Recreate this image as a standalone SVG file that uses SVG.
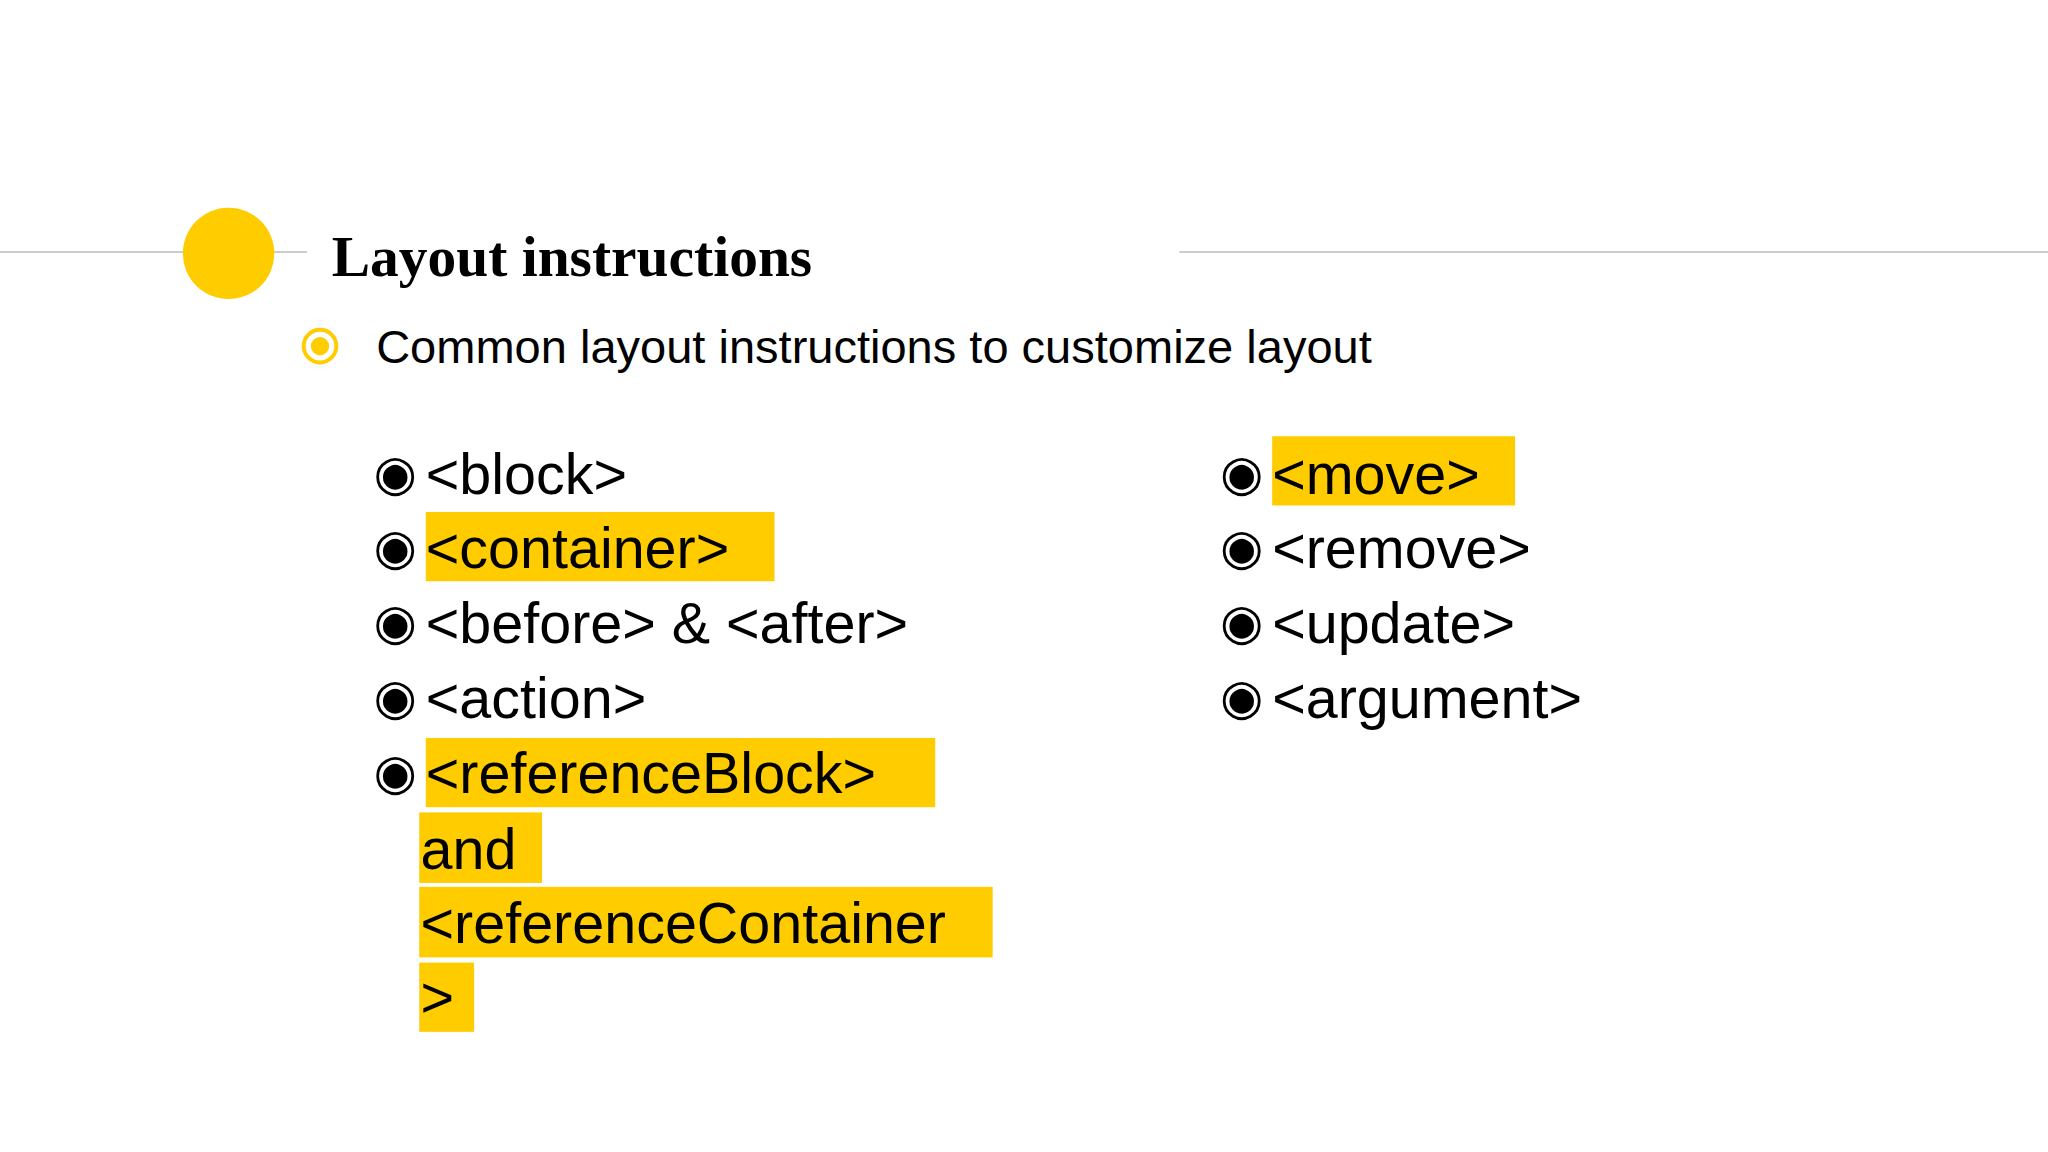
<svg xmlns="http://www.w3.org/2000/svg" width="2048" height="1152" viewBox="0 0 2048 1152">
<style>
.t{font-family:"Liberation Sans",Arial,sans-serif;font-size:44px;fill:#000}
.b{font-family:"DejaVu Sans",sans-serif;font-size:38px;fill:#000}
.h{fill:#ffcc00}
</style>
<rect width="2048" height="1152" fill="#fff"/>
<g transform="scale(1.30612)">
<g id="header">
<line x1="0" y1="193" x2="235" y2="193" stroke="#ccc" stroke-width="1.5"/>
<line x1="903" y1="193" x2="1568" y2="193" stroke="#ccc" stroke-width="1.5"/>
<circle cx="175" cy="194" r="35" fill="#ffcc00"/>
<text x="254" y="211" font-family="Liberation Serif,serif" font-weight="bold" font-size="44">Layout instructions</text>
</g>
<g id="subtitle">
<circle cx="245" cy="265" r="12.5" fill="none" stroke="#ffcc00" stroke-width="3"/>
<circle cx="245" cy="265" r="7" fill="#ffcc00"/>
<text x="288" y="278" font-family="Liberation Sans,Arial,sans-serif" font-size="36">Common layout instructions to customize layout</text>
</g>
<g id="highlights">
<rect class="h" x="326" y="392" width="267" height="53"/>
<rect class="h" x="974" y="334" width="186" height="53"/>
<rect class="h" x="326" y="565" width="390" height="53"/>
<rect class="h" x="321" y="622" width="94" height="54"/>
<rect class="h" x="321" y="679" width="439" height="54"/>
<rect class="h" x="321" y="737" width="42" height="53"/>
</g>
<g id="left-list">
<text class="b" x="286" y="375">◉</text><text class="t" x="326" y="378">&lt;block&gt;</text>
<text class="b" x="286" y="432">◉</text><text class="t" x="326" y="435">&lt;container&gt;</text>
<text class="b" x="286" y="489">◉</text><text class="t" x="326" y="492">&lt;before&gt; &amp; &lt;after&gt;</text>
<text class="b" x="286" y="547">◉</text><text class="t" x="326" y="550">&lt;action&gt;</text>
<text class="b" x="286" y="604">◉</text><text class="t" x="326" y="607">&lt;referenceBlock&gt;</text>
<text class="t" x="322" y="665">and</text>
<text class="t" x="322" y="722">&lt;referenceContainer</text>
<text class="t" x="322" y="779">&gt;</text>
</g>
<g id="right-list">
<text class="b" x="934" y="375">◉</text><text class="t" x="974" y="378">&lt;move&gt;</text>
<text class="b" x="934" y="432">◉</text><text class="t" x="974" y="435">&lt;remove&gt;</text>
<text class="b" x="934" y="489">◉</text><text class="t" x="974" y="492">&lt;update&gt;</text>
<text class="b" x="934" y="547">◉</text><text class="t" x="974" y="550">&lt;argument&gt;</text>
</g>
</g>
</svg>
